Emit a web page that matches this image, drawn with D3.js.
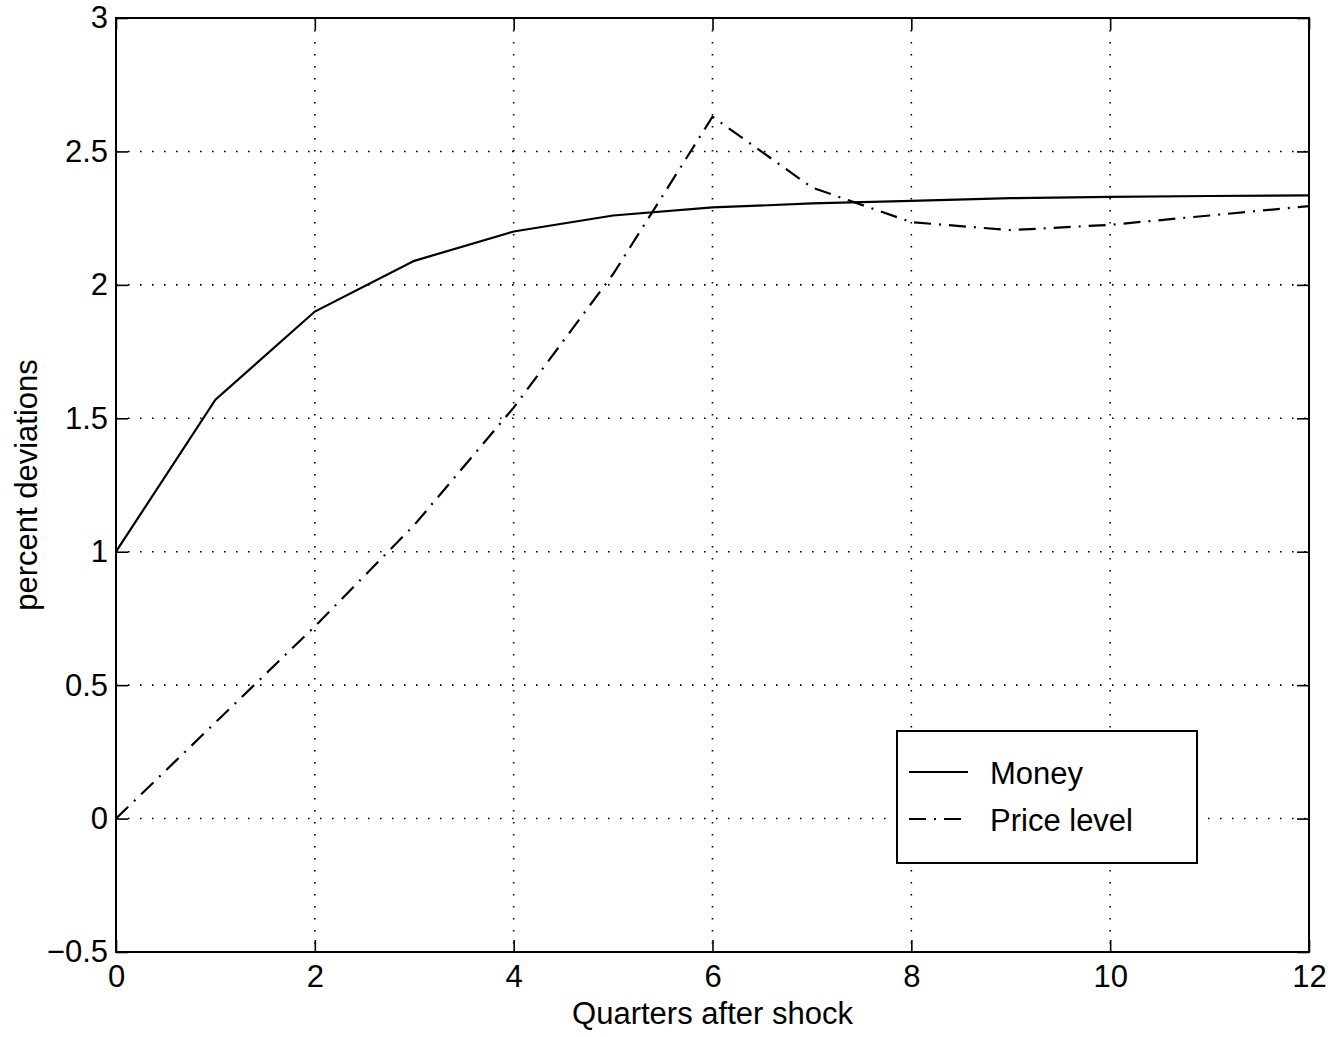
<!DOCTYPE html>
<html>
<head>
<meta charset="utf-8">
<script src="https://cdn.jsdelivr.net/npm/d3@7"></script>
<style>
  body { margin: 0; background: #fff; }
  text { font-family: "Liberation Sans", Arial, Helvetica, sans-serif; fill: #000; }
</style>
</head>
<body>
<svg id="chart" width="1344" height="1037"></svg>
<script>
// quarters after shock
var quarters = [0, 1, 2, 3, 4, 5, 6, 7, 8, 9, 10, 11, 12];
// percent deviations
var money = [1.00, 1.57, 1.90, 2.09, 2.20, 2.26, 2.29, 2.305, 2.315, 2.325, 2.33, 2.333, 2.335];
var priceLevel = [0.00, 0.36, 0.72, 1.10, 1.54, 2.04, 2.63, 2.365, 2.235, 2.205, 2.225, 2.26, 2.295];
var xTicks = [0, 2, 4, 6, 8, 10, 12];
var yTicks = [-0.5, 0, 0.5, 1, 1.5, 2, 2.5, 3];
var seriesNames = ["Money", "Price level"];

var svg = d3.select("#chart");
var plotLeft = 116, plotRight = 1309, plotTop = 18, plotBottom = 952;
var tickLen = 12;
var fontSize = "31px";

var x = d3.scaleLinear().domain([0, 12]).range([plotLeft, plotRight]);
var y = d3.scaleLinear().domain([-0.5, 3]).range([plotBottom, plotTop]);

var fmt = function (d) { return d < 0 ? "\u2212" + Math.abs(d) : String(d); };

// Grid (dotted)
var grid = svg.append("g").attr("class", "grid")
  .attr("stroke", "#000").attr("stroke-width", 1.6)
  .attr("stroke-dasharray", "1.6,10.4");
grid.selectAll("line.vx")
  .data(xTicks.filter(function (d) { return d > 0 && d < 12; }))
  .enter().append("line")
  .attr("x1", function (d) { return x(d); })
  .attr("x2", function (d) { return x(d); })
  .attr("y1", plotTop).attr("y2", plotBottom);
grid.selectAll("line.hy")
  .data(yTicks.filter(function (d) { return d > -0.5 && d < 3; }))
  .enter().append("line")
  .attr("y1", function (d) { return y(d); })
  .attr("y2", function (d) { return y(d); })
  .attr("x1", plotLeft).attr("x2", plotRight);

// Axes, MATLAB style: inward ticks on all four sides
var xBottom = d3.axisBottom(x).tickValues(xTicks).tickSizeInner(-tickLen).tickSizeOuter(0).tickPadding(13).tickFormat(fmt);
var xTop = d3.axisTop(x).tickValues(xTicks).tickSizeInner(-tickLen).tickSizeOuter(0).tickFormat("");
var yLeft = d3.axisLeft(y).tickValues(yTicks).tickSizeInner(-tickLen).tickSizeOuter(0).tickPadding(8).tickFormat(fmt);
var yRight = d3.axisRight(y).tickValues(yTicks).tickSizeInner(-tickLen).tickSizeOuter(0).tickFormat("");

function styleAxis(g) {
  g.select(".domain").remove();
  g.selectAll(".tick line").attr("stroke", "#000").attr("stroke-width", 1.6);
  g.selectAll(".tick text").style("font-size", fontSize).attr("fill", "#000");
}

svg.append("g").attr("transform", "translate(0," + plotBottom + ")").call(xBottom).call(styleAxis);
svg.append("g").attr("transform", "translate(0," + plotTop + ")").call(xTop).call(styleAxis);
svg.append("g").attr("transform", "translate(" + plotLeft + ",0)").call(yLeft).call(styleAxis);
svg.append("g").attr("transform", "translate(" + plotRight + ",0)").call(yRight).call(styleAxis);

// Plot box
svg.append("rect")
  .attr("x", plotLeft).attr("y", plotTop)
  .attr("width", plotRight - plotLeft).attr("height", plotBottom - plotTop)
  .attr("fill", "none").attr("stroke", "#000").attr("stroke-width", 2);

// Lines
var line = d3.line()
  .x(function (d) { return x(d[0]); })
  .y(function (d) { return y(d[1]); });

var styles = [
  { dash: null },
  { dash: "17,8,2,8" }
];
var series = [money, priceLevel];

svg.selectAll("path.series")
  .data(series)
  .enter().append("path")
  .attr("class", "series")
  .attr("d", function (vals) { return line(quarters.map(function (q, i) { return [q, vals[i]]; })); })
  .attr("fill", "none")
  .attr("stroke", "#000")
  .attr("stroke-width", 2.2)
  .attr("stroke-dasharray", function (d, i) { return styles[i].dash; });

// Legend
var legend = svg.append("g").attr("transform", "translate(897,731)");
legend.append("rect")
  .attr("width", 300).attr("height", 132)
  .attr("fill", "#fff").attr("stroke", "#000").attr("stroke-width", 2);
var items = legend.selectAll("g.item")
  .data(seriesNames)
  .enter().append("g")
  .attr("transform", function (d, i) { return "translate(0," + (41 + i * 47) + ")"; });
items.append("line")
  .attr("x1", 12).attr("x2", 71).attr("y1", 0).attr("y2", 0)
  .attr("stroke", "#000").attr("stroke-width", 2)
  .attr("stroke-dasharray", function (d, i) { return styles[i].dash; });
items.append("text")
  .attr("x", 93).attr("y", 12)
  .style("font-size", fontSize)
  .text(function (d) { return d; });

// Axis labels
svg.append("text")
  .attr("x", (plotLeft + plotRight) / 2).attr("y", 1024)
  .attr("text-anchor", "middle")
  .style("font-size", fontSize)
  .text("Quarters after shock");

svg.append("text")
  .attr("transform", "translate(37," + ((plotTop + plotBottom) / 2) + ") rotate(-90)")
  .attr("text-anchor", "middle")
  .style("font-size", fontSize)
  .text("percent deviations");
</script>
</body>
</html>
